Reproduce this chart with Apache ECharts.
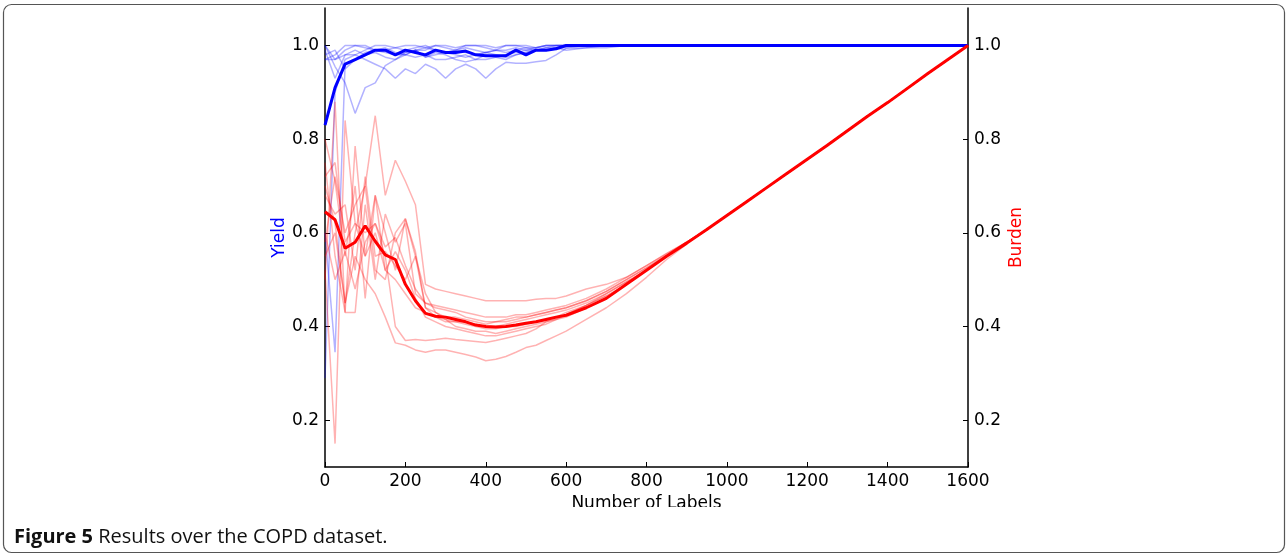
<!DOCTYPE html>
<html>
<head>
<meta charset="utf-8">
<script src="https://cdn.jsdelivr.net/npm/echarts@6/dist/echarts.min.js"></script>
<style>
html,body{margin:0;padding:0;background:#fff;}
#chart{width:1288px;height:556px;}
</style>
</head>
<body>
<div id="chart"></div>
<script>
// ---- data ----
const labelsHead = [0,25,50,75,100,125,150,175,200,225,250,275,300,325,350,375,400,425,450,475,500,525,550,575,600];
const labelsMid = [650,700,750,800,850,900];
const labelsTail = [950,1000,1050,1100,1150,1200,1250,1300,1350,1400,1450,1500,1550,1600];
const yTickValues = [0.2,0.4,0.6,0.8,1.0];

// shared burden tail (all runs overlap beyond ~950)
const burdenTail = [0.607,0.637,0.667,0.697,0.727,0.757,0.787,0.818,0.849,0.878,0.909,0.94,0.97,1.0];
const yieldTail = [1,1,1,1,1,1,1,1,1,1,1,1,1,1];

// mean burden (thick red)
const burdenMeanHead = [0.645,0.628,0.567,0.58,0.615,0.582,0.553,0.543,0.49,0.455,0.428,0.422,0.42,0.415,0.41,0.403,0.40,0.399,0.40,0.403,0.407,0.41,0.415,0.42,0.424];
const burdenMeanMid = [0.44,0.46,0.49,0.52,0.55,0.578];

// individual burden runs (thin red)
const burdenRun1 = [0.58,0.72,0.60,0.66,0.70,0.85,0.68,0.755,0.71,0.66,0.49,0.48,0.475,0.47,0.465,0.46,0.455,0.455,0.455,0.455,0.455,0.458,0.46,0.46,0.465, 0.48,0.49,0.505,0.53,0.556,0.58];
const burdenRun2 = [0.52,0.15,0.84,0.62,0.55,0.60,0.52,0.50,0.47,0.44,0.43,0.42,0.415,0.41,0.41,0.405,0.40,0.40,0.405,0.41,0.415,0.42,0.425,0.43,0.435, 0.45,0.47,0.495,0.52,0.55,0.578];
const burdenRun3 = [0.70,0.62,0.45,0.55,0.50,0.47,0.42,0.365,0.36,0.35,0.345,0.35,0.35,0.345,0.34,0.335,0.327,0.33,0.336,0.345,0.355,0.36,0.37,0.38,0.39, 0.415,0.44,0.47,0.505,0.543,0.576];
const burdenRun4 = [0.60,0.50,0.56,0.48,0.58,0.62,0.55,0.40,0.37,0.372,0.37,0.372,0.375,0.372,0.37,0.368,0.366,0.37,0.375,0.38,0.385,0.395,0.41,0.418,0.425, 0.445,0.465,0.49,0.52,0.55,0.578];
const burdenRun5 = [0.75,0.55,0.43,0.785,0.55,0.68,0.52,0.56,0.52,0.46,0.42,0.41,0.40,0.395,0.39,0.385,0.38,0.38,0.385,0.39,0.395,0.40,0.405,0.415,0.425, 0.445,0.47,0.495,0.52,0.55,0.578];
const burdenRun6 = [0.50,0.88,0.43,0.43,0.66,0.50,0.64,0.58,0.62,0.47,0.45,0.44,0.435,0.43,0.42,0.415,0.41,0.41,0.415,0.42,0.42,0.425,0.43,0.435,0.44, 0.455,0.475,0.50,0.525,0.552,0.58];
const burdenRun7 = [0.80,0.71,0.55,0.70,0.46,0.68,0.60,0.52,0.63,0.56,0.44,0.43,0.42,0.42,0.415,0.41,0.405,0.41,0.41,0.415,0.42,0.425,0.43,0.435,0.44, 0.455,0.475,0.50,0.525,0.552,0.58];
const burdenRun8 = [0.72,0.75,0.58,0.62,0.60,0.62,0.57,0.59,0.53,0.48,0.45,0.445,0.44,0.435,0.43,0.425,0.42,0.42,0.42,0.425,0.425,0.43,0.435,0.44,0.445, 0.46,0.48,0.505,0.53,0.555,0.58];
const burdenRun9 = [0.68,0.64,0.66,0.52,0.72,0.55,0.56,0.53,0.50,0.55,0.47,0.43,0.415,0.40,0.395,0.39,0.39,0.385,0.39,0.395,0.40,0.405,0.41,0.415,0.42, 0.44,0.46,0.49,0.52,0.55,0.578];
const burdenRun10 = [0.55,0.60,0.45,0.60,0.70,0.52,0.50,0.60,0.63,0.55,0.44,0.42,0.41,0.41,0.405,0.40,0.395,0.395,0.40,0.40,0.405,0.41,0.415,0.42,0.43, 0.445,0.465,0.49,0.52,0.55,0.578];

// mean yield (thick blue)
const yieldMeanHead = [0.83,0.91,0.96,0.97,0.98,0.99,0.99,0.98,0.99,0.985,0.98,0.99,0.985,0.985,0.988,0.98,0.978,0.978,0.978,0.99,0.98,0.99,0.99,0.993,1.0];
const yieldMeanMid = [1,1,1,1,1,1];

// individual yield runs (thin blue)
const yieldRun1 = [1.0,0.955,0.92,0.855,0.91,0.92,0.957,0.97,0.985,0.99,0.99,1.0,0.995,0.99,1.0,1.0,0.995,0.99,1.0,1.0,1.0,0.995,1.0,1.0,1.0, 1,1,1,1,1,1];
const yieldRun2 = [0.29,0.90,0.97,0.98,0.99,1.0,1.0,0.995,0.99,0.995,1.0,0.99,0.985,0.99,0.995,0.99,0.985,0.99,0.99,0.995,0.99,0.995,1.0,1.0,1.0, 1,1,1,1,1,1];
const yieldRun3 = [0.60,0.345,0.96,0.97,0.98,0.99,0.985,0.98,0.985,0.99,0.975,0.98,0.985,0.98,0.975,0.98,0.985,0.98,0.975,0.98,0.985,0.99,0.99,0.995,0.995, 1,1,1,1,1,1];
const yieldRun4 = [0.97,0.97,0.98,0.98,0.97,0.96,0.95,0.93,0.95,0.94,0.96,0.95,0.93,0.95,0.96,0.95,0.93,0.95,0.964,0.962,0.962,0.965,0.968,0.98,0.994, 0.995,1,1,1,1,1];
const yieldRun5 = [1.0,0.97,0.99,1.0,1.0,0.99,0.99,0.98,0.98,0.975,0.98,0.97,0.97,0.975,0.98,0.97,0.97,0.975,0.98,0.985,0.99,0.99,0.995,1.0,1.0, 1,1,1,1,1,1];
const yieldRun6 = [0.97,0.98,1.0,1.0,0.995,0.99,0.99,0.995,1.0,1.0,0.995,1.0,1.0,0.995,1.0,1.0,1.0,0.995,1.0,1.0,0.995,0.99,0.995,0.995,0.99, 0.995,0.995,1,1,1,1];
const yieldRun7 = [0.99,0.93,0.98,0.99,0.98,0.985,0.975,0.97,0.98,0.99,0.975,0.985,0.98,0.97,0.965,0.97,0.98,0.975,0.97,0.98,0.985,0.99,0.99,0.995,1.0, 1,1,1,1,1,1];
const yieldRun8 = [0.98,0.99,0.95,0.97,0.985,0.99,0.995,0.985,0.98,0.99,0.995,0.99,0.985,0.99,0.985,0.98,0.985,0.99,0.985,0.99,0.995,0.995,1.0,1.0,1.0, 1,1,1,1,1,1];

// ---- build ----
const labels = labelsHead.concat(labelsMid, labelsTail);
function pts(headMid, tail) {
  const vals = headMid.concat(tail);
  return labels.map((x, i) => [x, vals[i]]);
}
const burdenRuns = [burdenRun1,burdenRun2,burdenRun3,burdenRun4,burdenRun5,burdenRun6,burdenRun7,burdenRun8,burdenRun9,burdenRun10];
const yieldRuns = [yieldRun1,yieldRun2,yieldRun3,yieldRun4,yieldRun5,yieldRun6,yieldRun7,yieldRun8];

const FONT = 'DejaVu Sans';
const series = [];
yieldRuns.forEach(r => series.push({
  type:'line', yAxisIndex:0, data: pts(r, yieldTail), showSymbol:false, silent:true,
  lineStyle:{color:'rgba(0,0,255,0.3)', width:1.5}, z:1
}));
burdenRuns.forEach(r => series.push({
  type:'line', yAxisIndex:1, data: pts(r, burdenTail), showSymbol:false, silent:true,
  lineStyle:{color:'rgba(255,0,0,0.3)', width:1.5}, z:2
}));
series.push({
  type:'line', yAxisIndex:0, data: pts(yieldMeanHead.concat(yieldMeanMid), yieldTail), showSymbol:false, silent:true,
  lineStyle:{color:'#0000ff', width:3}, z:3
});
series.push({
  type:'line', yAxisIndex:1, data: pts(burdenMeanHead.concat(burdenMeanMid), burdenTail), showSymbol:false, silent:true,
  lineStyle:{color:'#ff0000', width:3}, z:4
});

function yAxisDef(pos, name, color, gap) {
  return {
    type:'value', position:pos, min:0.1, max:1.08,
    name:name, nameLocation:'middle', nameRotate:90, nameGap:gap,
    nameTextStyle:{color:color, fontFamily:FONT, fontSize:17},
    axisLine:{show:true, onZero:false, lineStyle:{color:'#000', width:1.5}},
    axisTick:{show:true, inside:true, length:5, customValues:yTickValues, lineStyle:{color:'#000', width:1}},
    axisLabel:{customValues:yTickValues, color:'#000', fontFamily:FONT, fontSize:17, margin:6,
      formatter: v => v.toFixed(1)},
    splitLine:{show:false}
  };
}

const chart = echarts.init(document.getElementById('chart'), null, {renderer:'canvas'});
chart.setOption({
  animation:false,
  backgroundColor:'#fff',
  grid:{left:325, right:320, top:8, bottom:89, containLabel:false},
  xAxis:{
    type:'value', min:0, max:1600, interval:200,
    name:'Number of Labels', nameLocation:'middle', nameGap:25,
    nameTextStyle:{color:'#000', fontFamily:FONT, fontSize:17},
    axisLine:{show:true, onZero:false, lineStyle:{color:'#000', width:1.5}},
    axisTick:{show:true, inside:true, length:5, lineStyle:{color:'#000', width:1}},
    axisLabel:{color:'#000', fontFamily:FONT, fontSize:17, margin:6, formatter: v => String(v)},
    splitLine:{show:false}
  },
  yAxis:[ yAxisDef('left','Yield','#0000ff',34), yAxisDef('right','Burden','#ff0000',40) ],
  series: series,
  graphic:[
    {type:'rect', shape:{x:3.5, y:4.5, width:1281, height:548, r:8}, style:{fill:'none', stroke:'#555', lineWidth:1.2}, z:100},
    {type:'rect', shape:{x:540, y:507, width:220, height:12}, style:{fill:'#fff'}, z:99},
    {type:'text', left:14, top:527, z:101, style:{
      text:'{b|Figure 5} Results over the COPD dataset.',
      rich:{
        b:{fontFamily:'Open Sans', fontWeight:'bold', fontSize:20, fill:'#111'}
      },
      fontFamily:'Open Sans', fontSize:20, fill:'#111'
    }}
  ]
});
</script>
</body>
</html>
